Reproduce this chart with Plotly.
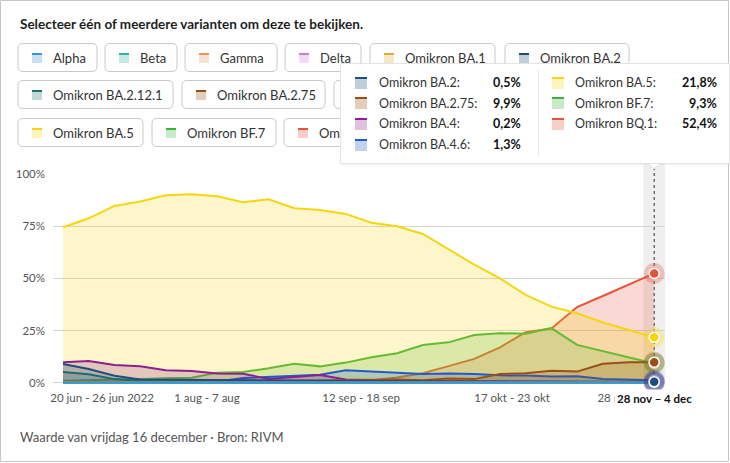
import plotly.graph_objects as go

# ---------------- data ----------------
weeks = [
    "20 jun - 26 jun 2022", "27 jun - 3 jul", "4 jul - 10 jul", "11 jul - 17 jul",
    "18 jul - 24 jul", "25 jul - 31 jul", "1 aug - 7 aug", "8 aug - 14 aug",
    "15 aug - 21 aug", "22 aug - 28 aug", "29 aug - 4 sep", "5 sep - 11 sep",
    "12 sep - 18 sep", "19 sep - 25 sep", "26 sep - 2 okt", "3 okt - 9 okt",
    "10 okt - 16 okt", "17 okt - 23 okt", "24 okt - 30 okt", "31 okt - 6 nov",
    "7 nov - 13 nov", "14 nov - 20 nov", "21 nov - 27 nov", "28 nov - 4 dec",
]
x_idx = list(range(len(weeks)))

alpha   = [0, 0, 0, 0, 0, 0, 0, 0, 0, 0, 0, 0, 0, 0, 0, 0, 0, 0, 0, 0, 0, 0, 0, 0]
beta    = [0, 0, 0, 0, 0, 0, 0, 0, 0, 0, 0, 0, 0, 0, 0, 0, 0, 0, 0, 0, 0, 0, 0, 0]
gamma   = [0, 0, 0, 0, 0, 0, 0, 0, 0, 0, 0, 0, 0, 0, 0, 0, 0, 0, 0, 0, 0, 0, 0, 0]
delta   = [0, 0, 0, 0, 0, 0, 0, 0, 0, 0, 0, 0, 0, 0, 0, 0, 0, 0, 0, 0, 0, 0, 0, 0]
ba1     = [0, 0, 0, 0, 0, 0, 0, 0, 0, 0, 0, 0, 0, 0, 0, 0, 0, 0, 0, 0, 0, 0, 0, 0]
ba2     = [9.0, 6.6, 3.4, 1.6, 1.5, 1.4, 1.3, 1.2, 1.1, 1.0, 1.0, 0.9,
           0.9, 0.8, 0.8, 0.7, 0.7, 0.7, 0.6, 0.6, 0.6, 0.5, 0.5, 0.5]
ba2121  = [5.2, 4.1, 1.8, 0.9, 0.7, 0.5, 0.4, 0.3, 0.3, 0.2, 0.2, 0.1,
           0.1, 0.1, 0.1, 0.1, 0, 0, 0, 0, 0, 0, 0, 0]
ba275   = [0.3, 0.3, 0.3, 0.3, 0.4, 0.4, 0.5, 0.6, 0.8, 1.0, 1.2, 1.5,
           1.4, 1.6, 1.3, 2.1, 1.8, 4.2, 4.6, 5.8, 5.4, 9.1, 9.9, 9.9]
ba4     = [9.9, 10.5, 8.5, 8.0, 6.1, 5.7, 4.5, 4.4, 1.9, 2.9, 3.8, 1.6,
           1.3, 1.1, 0.9, 0.8, 0.7, 0.6, 0.5, 0.4, 0.4, 0.3, 0.3, 0.2]
ba46    = [0.2, 0.2, 0.3, 0.3, 0.4, 0.4, 0.5, 2.3, 2.8, 3.3, 3.9, 6.0,
           5.4, 4.7, 4.2, 4.5, 4.3, 3.6, 3.5, 3.0, 3.2, 1.9, 1.7, 1.3]
ba5     = [74.5, 78.8, 84.7, 86.8, 89.8, 90.3, 89.3, 86.5, 87.9, 83.6, 82.8, 80.9,
           76.7, 75.0, 71.3, 63.8, 56.6, 50.0, 42.1, 36.5, 33.3, 28.9, 25.4, 21.8]
bf7     = [1.0, 1.2, 1.5, 1.8, 2.2, 2.4, 4.9, 5.2, 7.0, 9.1, 7.9, 9.7,
           12.3, 14.2, 18.1, 19.4, 22.9, 23.8, 23.5, 26.2, 18.2, 15.2, 12.5, 9.3]
bq1     = [0, 0, 0, 0, 0, 0, 0, 0, 0.1, 0.2, 0.4, 0.7,
           1.2, 2.6, 4.6, 8.0, 11.5, 17.0, 24.3, 26.0, 36.3, 41.6, 47.0, 52.4]

series_names = ["Alpha", "Beta", "Gamma", "Delta", "Omikron BA.1", "Omikron BA.2",
                "Omikron BA.2.12.1", "Omikron BA.2.75", "Omikron BA.4",
                "Omikron BA.4.6", "Omikron BA.5", "Omikron BF.7", "Omikron BQ.1"]
series_values = {
    "Alpha": alpha, "Beta": beta, "Gamma": gamma, "Delta": delta,
    "Omikron BA.1": ba1, "Omikron BA.2": ba2, "Omikron BA.2.12.1": ba2121,
    "Omikron BA.2.75": ba275, "Omikron BA.4": ba4, "Omikron BA.4.6": ba46,
    "Omikron BA.5": ba5, "Omikron BF.7": bf7, "Omikron BQ.1": bq1,
}

y_ticks = [0, 25, 50, 75, 100]
y_tick_text = ["0%", "25%", "50%", "75%", "100%"]
x_tick_text = ["20 jun - 26 jun 2022", "1 aug - 7 aug", "12 sep - 18 sep",
               "17 okt - 23 okt", "28 nov - 4 dec"]

title_text = "Selecteer één of meerdere varianten om deze te bekijken."
caption_text = "Waarde van vrijdag 16 december · Bron: RIVM"

# ---------------- styles / layout ----------------
colors = {
    "Alpha": "#3b97d3", "Beta": "#2fb59a", "Gamma": "#e8955e", "Delta": "#d774dd",
    "Omikron BA.1": "#dcab3c", "Omikron BA.2": "#1d4e7c",
    "Omikron BA.2.12.1": "#1b756b", "Omikron BA.2.75": "#9c4f14",
    "Omikron BA.4": "#8e1f8e", "Omikron BA.4.6": "#2258d0",
    "Omikron BA.5": "#f5d60f", "Omikron BF.7": "#3cb43c", "Omikron BQ.1": "#e6533b",
}
x_tick_pos = [1.52, 5.6, 11.6, 17.47, 22.2]   # label placement on the axis

FONT = "Lato"
FIG_W, FIG_H = 730, 463
PL, PR, PT, PB = 53, 665, 174, 386
PW, PH = PR - PL, PB - PT


def px(x):
    return (x - PL) / PW


def py(y):
    return (PB - y) / PH


def rgba(hexc, a):
    h = hexc.lstrip("#")
    r, g, b = int(h[0:2], 16), int(h[2:4], 16), int(h[4:6], 16)
    return f"rgba({r},{g},{b},{a})"


def rrect(x0, y0, x1, y1, r):
    return (f"M {px(x0 + r)},{py(y0)} L {px(x1 - r)},{py(y0)} "
            f"Q {px(x1)},{py(y0)} {px(x1)},{py(y0 + r)} L {px(x1)},{py(y1 - r)} "
            f"Q {px(x1)},{py(y1)} {px(x1 - r)},{py(y1)} L {px(x0 + r)},{py(y1)} "
            f"Q {px(x0)},{py(y1)} {px(x0)},{py(y1 - r)} L {px(x0)},{py(y0 + r)} "
            f"Q {px(x0)},{py(y0)} {px(x0 + r)},{py(y0)} Z")


fig = go.Figure()

# area series, drawn last-to-first like the original
for name in reversed(series_names):
    c = colors[name]
    fig.add_trace(go.Scatter(
        x=x_idx, y=series_values[name], mode="lines", name=name,
        line=dict(color=c, width=2), fill="tozeroy", fillcolor=rgba(c, 0.22),
        hoverinfo="skip", showlegend=False))

# hover markers at the last week
tip_names = [n for n in series_names if series_values[n][-1] > 0]
for name in reversed(tip_names):
    c = colors[name]
    v = series_values[name]
    fig.add_trace(go.Scatter(
        x=[x_idx[-1]], y=[v[-1]], mode="markers", cliponaxis=False,
        marker=dict(size=21, color=rgba(c, 0.3), line=dict(width=0)),
        hoverinfo="skip", showlegend=False))
    fig.add_trace(go.Scatter(
        x=[x_idx[-1]], y=[v[-1]], mode="markers", cliponaxis=False,
        marker=dict(size=10, color=c, line=dict(width=1.5, color="white")),
        hoverinfo="skip", showlegend=False))

shapes = []
annotations = []

# crosshair band + dotted line
shapes.append(dict(type="rect", xref="x", yref="paper", x0=x_idx[-1] - 0.42,
                   x1=x_idx[-1] + 0.42, y0=0, y1=py(163), fillcolor="#efefef",
                   line=dict(width=0), layer="below"))
shapes.append(dict(type="line", xref="x", yref="paper", x0=x_idx[-1], x1=x_idx[-1],
                   y0=0, y1=py(163), line=dict(color="#333333", width=1, dash="dot"),
                   layer="below"))

# outer frame
shapes.append(dict(type="rect", xref="paper", yref="paper", x0=px(0.5), x1=px(728.5),
                   y0=py(461.5), y1=py(0.5), line=dict(color="#c6c6c6", width=1),
                   fillcolor="rgba(0,0,0,0)"))

# title and caption
annotations.append(dict(xref="paper", yref="paper", x=px(18), y=py(24), xanchor="left",
                        yanchor="middle", showarrow=False, text=f"<b>{title_text}</b>",
                        font=dict(family=FONT, size=13.5, color="#1e1e1e")))
annotations.append(dict(xref="paper", yref="paper", x=px(18), y=py(437), xanchor="left",
                        yanchor="middle", showarrow=False, text=caption_text,
                        font=dict(family=FONT, size=13, color="#555555")))

# legend buttons
rows_top = [43.5, 80.5, 118.5]
btn_h = 28
buttons = [  # name, row, left, right
    ("Alpha", 0, 18, 97), ("Beta", 0, 105, 177), ("Gamma", 0, 185, 277),
    ("Delta", 0, 285, 361), ("Omikron BA.1", 0, 370, 495), ("Omikron BA.2", 0, 505, 629),
    ("Omikron BA.2.12.1", 1, 18, 173), ("Omikron BA.2.75", 1, 182, 325),
    ("Omikron BA.4", 1, 334, 459), ("Omikron BA.4.6", 1, 468, 613),
    ("Omikron BA.5", 2, 18, 143), ("Omikron BF.7", 2, 152, 276),
    ("Omikron BQ.1", 2, 284, 409),
]
for name, row, l, r in buttons:
    t = rows_top[row]
    b = t + btn_h
    c = colors[name]
    shapes.append(dict(type="path", xref="paper", yref="paper", path=rrect(l, t, r, b, 5),
                       fillcolor="white", line=dict(color="#c9c9c9", width=1), layer="above"))
    shapes.append(dict(type="rect", xref="paper", yref="paper", x0=px(l + 14), x1=px(l + 24),
                       y0=py(t + 19.5), y1=py(t + 9.5), fillcolor=rgba(c, 0.28),
                       line=dict(width=0), layer="above"))
    shapes.append(dict(type="rect", xref="paper", yref="paper", x0=px(l + 14), x1=px(l + 24),
                       y0=py(t + 11.5), y1=py(t + 9.5), fillcolor=c,
                       line=dict(width=0), layer="above"))
    annotations.append(dict(xref="paper", yref="paper", x=px(l + 33), y=py(t + btn_h / 2),
                            xanchor="left", yanchor="middle", showarrow=False, text=name,
                            font=dict(family=FONT, size=13, color="#333333")))

# tooltip
TL, TT, TR, TB = 340, 63, 728, 162
shapes.append(dict(type="rect", xref="paper", yref="paper", x0=px(TL + 1), x1=px(TR + 1),
                   y0=py(TB + 3), y1=py(TT + 1), fillcolor="rgba(0,0,0,0.05)",
                   line=dict(width=0), layer="above"))
shapes.append(dict(type="path", xref="paper", yref="paper",
                   path=(f"M {px(646)},{py(TB - 1)} L {px(662)},{py(TB - 1)} "
                         f"L {px(654)},{py(TB + 7)} Z"),
                   fillcolor="white", line=dict(color="#e2e2e2", width=1), layer="above"))


def box(xl, yt, w, h, color, border=None):
    annotations.append(dict(xref="paper", yref="paper", x=px(xl), y=py(yt), xanchor="left",
                            yanchor="top", showarrow=False, text="\u00a0", width=w, height=h,
                            bgcolor=color, borderpad=0,
                            bordercolor=border if border else "rgba(0,0,0,0)",
                            borderwidth=1 if border else 0,
                            font=dict(size=1, color=color)))


box(TL, TT, TR - TL, TB - TT, "white", "#e4e4e4")
box(537.5, 70, 1, 86, "#e6e6e6")

row_y = [83, 103.5, 124, 144.5]
cols = [(355, 377, 523), (552, 573, 719)]
for i, name in enumerate(tip_names):
    ci, ri = (0, i) if i < 4 else (1, i - 4)
    ix, lx, vx = cols[ci]
    yc = row_y[ri]
    c = colors[name]
    box(ix, yc - 6, 12, 12, rgba(c, 0.28))
    box(ix, yc - 6, 12, 2, c)
    val = f"{series_values[name][-1]:.1f}".replace(".", ",") + "%"
    annotations.append(dict(xref="paper", yref="paper", x=px(lx), y=py(yc), xanchor="left",
                            yanchor="middle", showarrow=False, text=name + ":",
                            font=dict(family=FONT, size=12.5, color="#333333")))
    annotations.append(dict(xref="paper", yref="paper", x=px(vx), y=py(yc), xanchor="right",
                            yanchor="middle", showarrow=False, text=f"<b>{val}</b>",
                            font=dict(family=FONT, size=12.5, color="#111111")))

# highlighted category label under the crosshair
annotations.append(dict(xref="x", yref="paper", x=x_idx[-1], y=py(398), xanchor="center",
                        yanchor="middle", showarrow=False,
                        text="<b>" + weeks[-1].replace(" - ", " – ") + "</b>",
                        bgcolor="white", borderpad=2,
                        font=dict(family=FONT, size=11.5, color="#111111")))

fig.update_layout(
    width=FIG_W, height=FIG_H,
    margin=dict(l=PL, r=FIG_W - PR, t=PT, b=FIG_H - PB, autoexpand=False),
    paper_bgcolor="white", plot_bgcolor="white",
    hovermode=False, showlegend=False,
    shapes=shapes, annotations=annotations,
    xaxis=dict(range=[-0.39, 23.42], tickvals=x_tick_pos, ticktext=x_tick_text,
               showgrid=False, zeroline=False, showline=False, ticks="",
               tickfont=dict(family=FONT, size=11.5, color="#555555"),
               ticklabelstandoff=3, fixedrange=True),
    yaxis=dict(range=[-1.5, 100], tickvals=y_ticks, ticktext=y_tick_text,
               showgrid=True, gridcolor="#d4d4d4", gridwidth=1,
               zeroline=True, zerolinecolor="#d4d4d4", zerolinewidth=1,
               showline=False, ticks="",
               tickfont=dict(family=FONT, size=11.5, color="#555555"),
               ticklabelstandoff=7, fixedrange=True),
)

fig.write_html("out.html", config={"displayModeBar": False})
